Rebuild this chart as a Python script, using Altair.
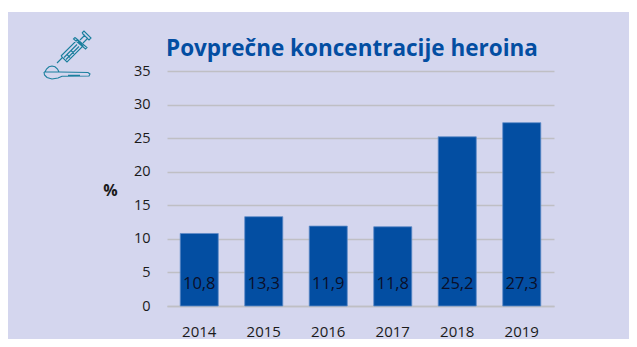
import altair as alt
import pandas as pd

years = ["2014", "2015", "2016", "2017", "2018", "2019"]
values = [10.8, 13.3, 11.9, 11.8, 25.2, 27.3]
labels = ["10,8", "13,3", "11,9", "11,8", "25,2", "27,3"]
title_text = "Povprečne koncentracije heroina"
y_ticks = [0, 5, 10, 15, 20, 25, 30, 35]

PANEL = "#d4d6ee"
BLUE = "#034ea2"
GRID = "#bfbfc4"
INK = "#1a1a1a"
TEAL = "#1b7f9e"
FONT = "Open Sans"

df = pd.DataFrame({"year": years, "value": values, "label": labels})
one = pd.DataFrame({"a": [0]})

# Icon outline, drawn as one custom symbol in a -1..1 box
ICON_PATHS = [
    # powder mound
    [(45, 72), (46.5, 69), (49, 66.8), (52, 66), (55, 66.8), (57.5, 69), (59, 72)],
    # bowl and handle
    [(44, 72), (60, 72), (88, 72.5), (90, 74), (89, 76), (62, 76.3), (58, 78), (52, 79), (47, 77.5), (44.5, 75), (44, 72)],
    [(68, 75.3), (80, 75.3)],
    # needle
    [(57, 63), (62, 58)],
    # barrel
    [(61, 56), (67, 62), (83, 46), (77, 40), (61, 56)],
    [(64, 57.5), (77, 44.5)], [(66, 59.5), (79, 46.5)],
    [(67, 54.5), (70, 57.5)], [(71, 50.5), (74, 53.5)],
    # flange
    [(75, 37.5), (87, 47.5), (85.5, 49), (73.5, 39), (75, 37.5)],
    # plunger rod and head
    [(80, 40), (85, 35)], [(83, 43), (88, 38)],
    [(82, 33), (84, 31), (91, 38), (89, 40), (82, 33)],
]
CX, CY, S = 67, 54, 24


def icon_path():
    parts = []
    for pts in ICON_PATHS:
        coords = [f"{(x - CX) / S:.3f},{(y - CY) / S:.3f}" for x, y in pts]
        parts.append("M" + " L".join(coords))
    return " ".join(parts)


y_scale = alt.Scale(domain=[0, 35], nice=False)

y_axis = alt.Axis(
    values=y_ticks, tickCount=8, labelFont=FONT, labelFontSize=14.5, labelOverlap=False,
    labelColor=INK, labelPadding=17, ticks=False, domain=False,
    gridColor=GRID, gridWidth=1.3, grid=True,
    titleFont=FONT, titleFontSize=16, titleFontWeight="bold", titleColor=INK,
    titleAngle=0, titleAlign="center", titleBaseline="middle",
    titleX=-57, titleY=119,
)

x_enc = alt.X(
    "year:N",
    sort=years,
    title=None,
    scale=alt.Scale(paddingInner=0.41, paddingOuter=0.205),
    axis=alt.Axis(
        labelAngle=0, labelFont=FONT, labelFontSize=15, labelColor=INK,
        labelPadding=18, ticks=False, domainColor=GRID, domainWidth=1.5, grid=False,
    ),
)

bars = alt.Chart(df).mark_bar(color=BLUE, stroke="#5f8cc8", strokeWidth=0.8).encode(
    x=x_enc,
    y=alt.Y("value:Q", title="%", scale=y_scale, axis=y_axis),
)

texts = alt.Chart(df).mark_text(font=FONT, fontSize=16.5, color="#0a0f2a", baseline="middle", dy=-22).encode(
    x=alt.X("year:N", sort=years),
    y=alt.datum(0, axis=y_axis, scale=y_scale, title="%"),
    text="label:N",
)

strip = alt.Chart(one).mark_rect(color="white", clip=False).encode(
    x=alt.value(-170), x2=alt.value(500), y=alt.value(-70), y2=alt.value(-59),
)

icon = alt.Chart(one).mark_point(
    shape=icon_path(), size=4 * S * S, filled=False, stroke=TEAL, strokeWidth=1.1, opacity=1
).encode(x=alt.value(CX - 167), y=alt.value(CY - 71))

title_mark = alt.Chart(one).mark_text(
    text=title_text, font=FONT, fontSize=22.5, fontWeight="bold", color=BLUE,
    align="left", baseline="alphabetic",
).encode(x=alt.value(-1), y=alt.value(-15))

chart = alt.layer(bars, texts, strip, icon, title_mark).properties(
    width=387,
    height=235,
    background=PANEL,
    autosize=alt.AutoSizeParams(type="none"),
    padding={"left": 159, "top": 63, "right": 75, "bottom": 33},
).configure_view(stroke=None)

chart.save("out.html", embed_options={"renderer": "svg", "actions": False})
